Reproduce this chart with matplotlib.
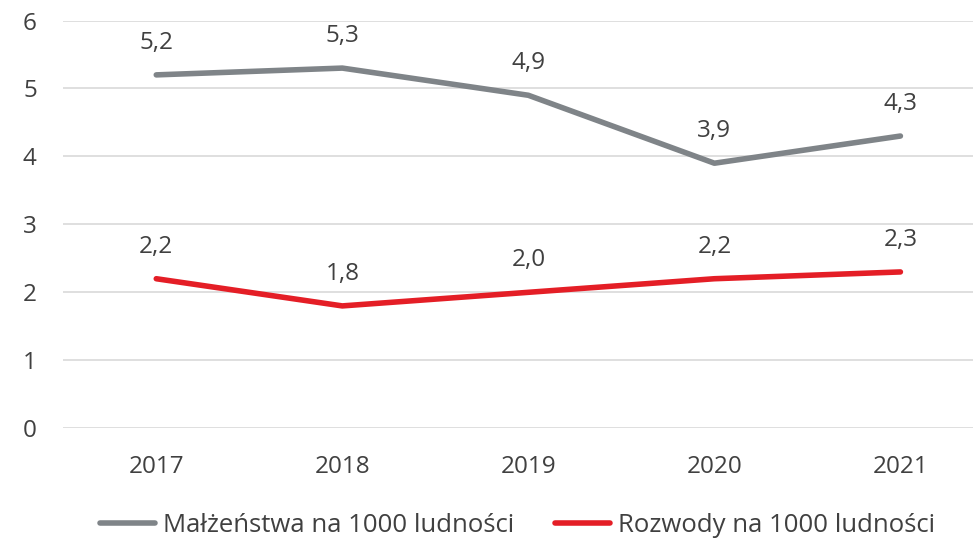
import matplotlib.pyplot as plt

plt.rcParams['font.family'] = ['Open Sans', 'DejaVu Sans']

years = ["2017", "2018", "2019", "2020", "2021"]
malzenstwa = [5.2, 5.3, 4.9, 3.9, 4.3]
rozwody = [2.2, 1.8, 2.0, 2.2, 2.3]

GRAY = "#7f8488"
RED = "#e41e26"
TEXT = "#404040"
FS = 17.5

fig = plt.figure(figsize=(9.73, 5.4), dpi=100)
ax = fig.add_axes([0.065, 0.207, 0.956, 0.755])

x = range(len(years))
ax.plot(x, malzenstwa, color=GRAY, lw=4, solid_capstyle='round', label="Małżeństwa na 1000 ludności")
ax.plot(x, rozwody, color=RED, lw=4, solid_capstyle='round', label="Rozwody na 1000 ludności")

# etichette sopra i punti
for serie in (malzenstwa, rozwody):
    for xi, v in zip(x, serie):
        ax.annotate(f"{v:.1f}".replace('.', ','), (xi, v), xytext=(0, 23), textcoords='offset points',
                    ha='center', va='center', fontsize=FS, color=TEXT)

ax.set_xlim(-0.5, len(years) - 0.5)
ax.set_ylim(0, 6)
ax.set_xticks(list(x))
ax.set_xticklabels(years)
ax.set_yticks(range(0, 7))
ax.tick_params(axis='both', length=0, labelsize=FS, labelcolor=TEXT)
ax.tick_params(axis='x', pad=19)
ax.tick_params(axis='y', pad=19)
ax.grid(axis='y', color='#d9d9d9', lw=1.2)
ax.set_axisbelow(True)
for s in ax.spines.values():
    s.set_visible(False)

ax.legend(loc='center left', bbox_to_anchor=(0.04, -0.238), ncol=2, frameon=False,
          fontsize=18.5, handlelength=2.14, handletextpad=0.31, columnspacing=1.56,
          borderpad=0, borderaxespad=0, labelcolor=TEXT)

fig.savefig("out.png", dpi=100)
